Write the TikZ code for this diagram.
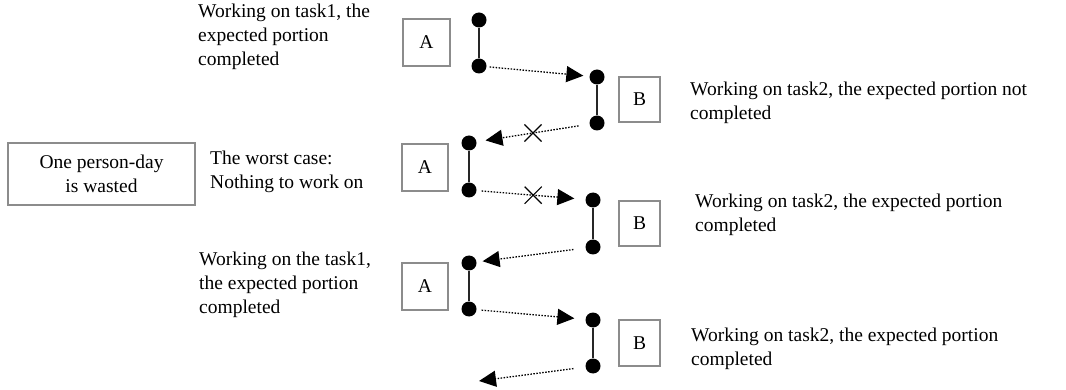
\documentclass[tikz,border=0pt]{standalone}
\usepackage{fontspec}
\setmainfont{Liberation Serif}
\usetikzlibrary{arrows.meta,shapes.misc}
\definecolor{boxgray}{RGB}{140,140,140}
\begin{document}
\begin{tikzpicture}[x=1pt,y=-1pt,
  lbl/.style={font=\fontsize{19.5}{24}\selectfont, inner sep=0pt, align=left, anchor=west},
  box/.style={draw=boxgray, line width=1.4pt, inner sep=0pt, font=\fontsize{19.5}{24}\selectfont},
  dot/.style={circle, fill=black, inner sep=0pt, minimum size=15pt},
  bar/.style={line width=1.8pt, black!85},
  flow/.style={dash pattern=on 1.5pt off 1.5pt, line width=1.3pt, -{Triangle[length=17pt,width=16pt]}},
  xmark/.style={cross out, draw, solid, line width=1.1pt, minimum size=16pt, inner sep=0pt}]
\useasboundingbox (0,0) rectangle (1066,390);

% dots
\node[dot] (a1t) at (479,20) {};
\node[dot] (a1b) at (479,66) {};
\node[dot] (b1t) at (597,77) {};
\node[dot] (b1b) at (597,123) {};
\node[dot] (a2t) at (469,143) {};
\node[dot] (a2b) at (469,190) {};
\node[dot] (b2t) at (593,200) {};
\node[dot] (b2b) at (593,247) {};
\node[dot] (a3t) at (469,263) {};
\node[dot] (a3b) at (469,309) {};
\node[dot] (b3t) at (593,320) {};
\node[dot] (b3b) at (593,366) {};
\coordinate (end) at (479,381);

% bars
\draw[bar] (a1t) -- (a1b);
\draw[bar] (b1t) -- (b1b);
\draw[bar] (a2t) -- (a2b);
\draw[bar] (b2t) -- (b2b);
\draw[bar] (a3t) -- (a3b);
\draw[bar] (b3t) -- (b3b);

% arrows
\draw[flow, shorten <=3pt, shorten >=6pt] (a1b) -- (b1t);
\draw[flow, shorten <=11pt, shorten >=9pt] (b1b) -- (a2t);
\draw[flow, shorten <=5pt, shorten >=11pt] (a2b) -- (b2t);
\draw[flow, shorten <=12pt, shorten >=6pt] (b2b) -- (a3t);
\draw[flow, shorten <=5pt, shorten >=11pt] (a3b) -- (b3t);
\draw[flow, shorten <=12pt] (b3b) -- (end);

% crosses on the failed hand-offs
\path (b1b) -- coordinate[pos=0.5] (x1) (a2t);
\path (a2b) -- coordinate[pos=0.52] (x2) (b2t);
\node[xmark] (c1) at (x1) {};
\node[xmark] (c2) at (x2) {};

% boxes
\node[box, minimum width=47pt, minimum height=47pt] (A1) at (426.5,42.5) {A};
\node[box, minimum width=41pt, minimum height=45pt] (B1) at (639.5,99.5) {B};
\node[box, minimum width=46pt, minimum height=47pt] (A2) at (425,167.5) {A};
\node[box, minimum width=41pt, minimum height=45pt] (B2) at (639.5,223.5) {B};
\node[box, minimum width=46pt, minimum height=47pt] (A3) at (425,286.5) {A};
\node[box, minimum width=41pt, minimum height=46pt] (B3) at (639.5,343) {B};
\node[box, minimum width=187pt, minimum height=62pt, align=center] (W) at (101.5,174) {One person-day\\is wasted};

% labels
\node[lbl] (t1) at (198,37) {Working on task1, the\\expected portion\\completed};
\node[lbl] (t2) at (690,103) {Working on task2, the expected portion not\\completed};
\node[lbl] (t3) at (210,171.5) {The worst case:\\Nothing to work on};
\node[lbl] (t4) at (695,215) {Working on task2, the expected portion\\completed};
\node[lbl] (t5) at (199,285) {Working on the task1,\\the expected portion\\completed};
\node[lbl] (t6) at (691,349) {Working on task2, the expected portion\\completed};
\end{tikzpicture}
\end{document}
